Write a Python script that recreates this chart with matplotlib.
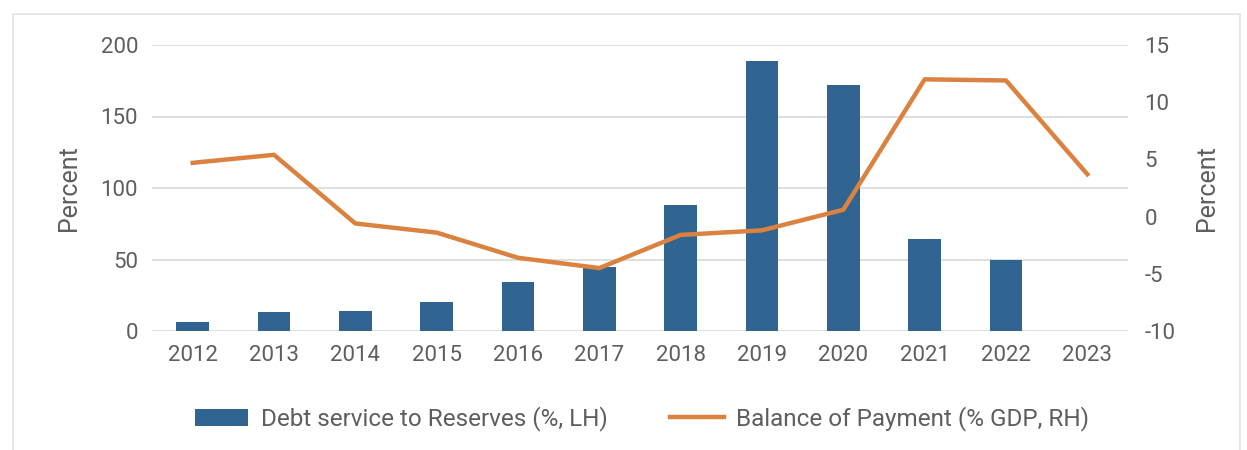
import matplotlib.pyplot as plt
from matplotlib.patches import Rectangle

# data
years = ["2012", "2013", "2014", "2015", "2016", "2017", "2018", "2019", "2020", "2021", "2022", "2023"]
debt_service = [6, 13, 14, 20, 34, 45, 88, 189, 172, 64, 50, None]
balance_of_payment = [4.7, 5.4, -0.6, -1.4, -3.6, -4.5, -1.6, -1.2, 0.6, 12.0, 11.9, 3.7]
left_ticks = [0, 50, 100, 150, 200]
right_ticks = [-10, -5, 0, 5, 10, 15]

bar_colour = "#2F6590"
line_colour = "#DB8240"
text_colour = "#5E5E5E"
grid_colour = "#D9D9D9"

plt.rcParams["font.family"] = ["Roboto", "DejaVu Sans"]

fig = plt.figure(figsize=(12.47, 4.5), dpi=100)
ax = fig.add_axes([152 / 1247, 1 - 331 / 450, (1128 - 152) / 1247, 286 / 450])

x = list(range(len(years)))
bar_x = [i for i, v in zip(x, debt_service) if v is not None]
bar_h = [v for v in debt_service if v is not None]
bars = ax.bar(bar_x, bar_h, width=0.4, color=bar_colour, zorder=2,
              label="Debt service to Reserves (%, LH)")

ax.set_ylim(0, 200)
ax.set_yticks(left_ticks)
ax.set_yticklabels([str(t) for t in left_ticks])
ax.set_xlim(-0.5, len(years) - 0.5)
ax.set_xticks(x)
ax.set_xticklabels(years)
ax.grid(axis="y", color=grid_colour, linewidth=1.2, zorder=0)
ax.set_axisbelow(True)
for s in ax.spines.values():
    s.set_visible(False)
ax.tick_params(length=0, labelsize=16, colors=text_colour, pad=10)
ax.set_ylabel("Percent", fontsize=18, color=text_colour, labelpad=14)

ax2 = ax.twinx()
line, = ax2.plot(x, balance_of_payment, color=line_colour, linewidth=3.2, zorder=3,
                 label="Balance of Payment (% GDP, RH)")
ax2.set_ylim(-10, 15)
ax2.set_yticks(right_ticks)
ax2.set_yticklabels([str(t) for t in right_ticks])
for s in ax2.spines.values():
    s.set_visible(False)
ax2.tick_params(length=0, labelsize=16, colors=text_colour, pad=12)
ax2.set_ylabel("Percent", fontsize=18, color=text_colour, labelpad=14)

fig.legend([bars, line], [bars.get_label(), line.get_label()],
           loc="center", bbox_to_anchor=(642 / 1247, 1 - 419 / 450), ncol=2,
           frameon=False, fontsize=17.5, labelcolor=text_colour,
           handlelength=2.2, handleheight=0.75, columnspacing=2.6, handletextpad=0.5)

# thin grey frame round the whole chart
fig.patches.append(Rectangle((13 / 1247, -0.01), 1227 / 1247, 1 - 14 / 450 + 0.01,
                             transform=fig.transFigure, fill=False,
                             edgecolor="#E3E3E3", linewidth=1.2))

fig.savefig("out.png", dpi=100)
